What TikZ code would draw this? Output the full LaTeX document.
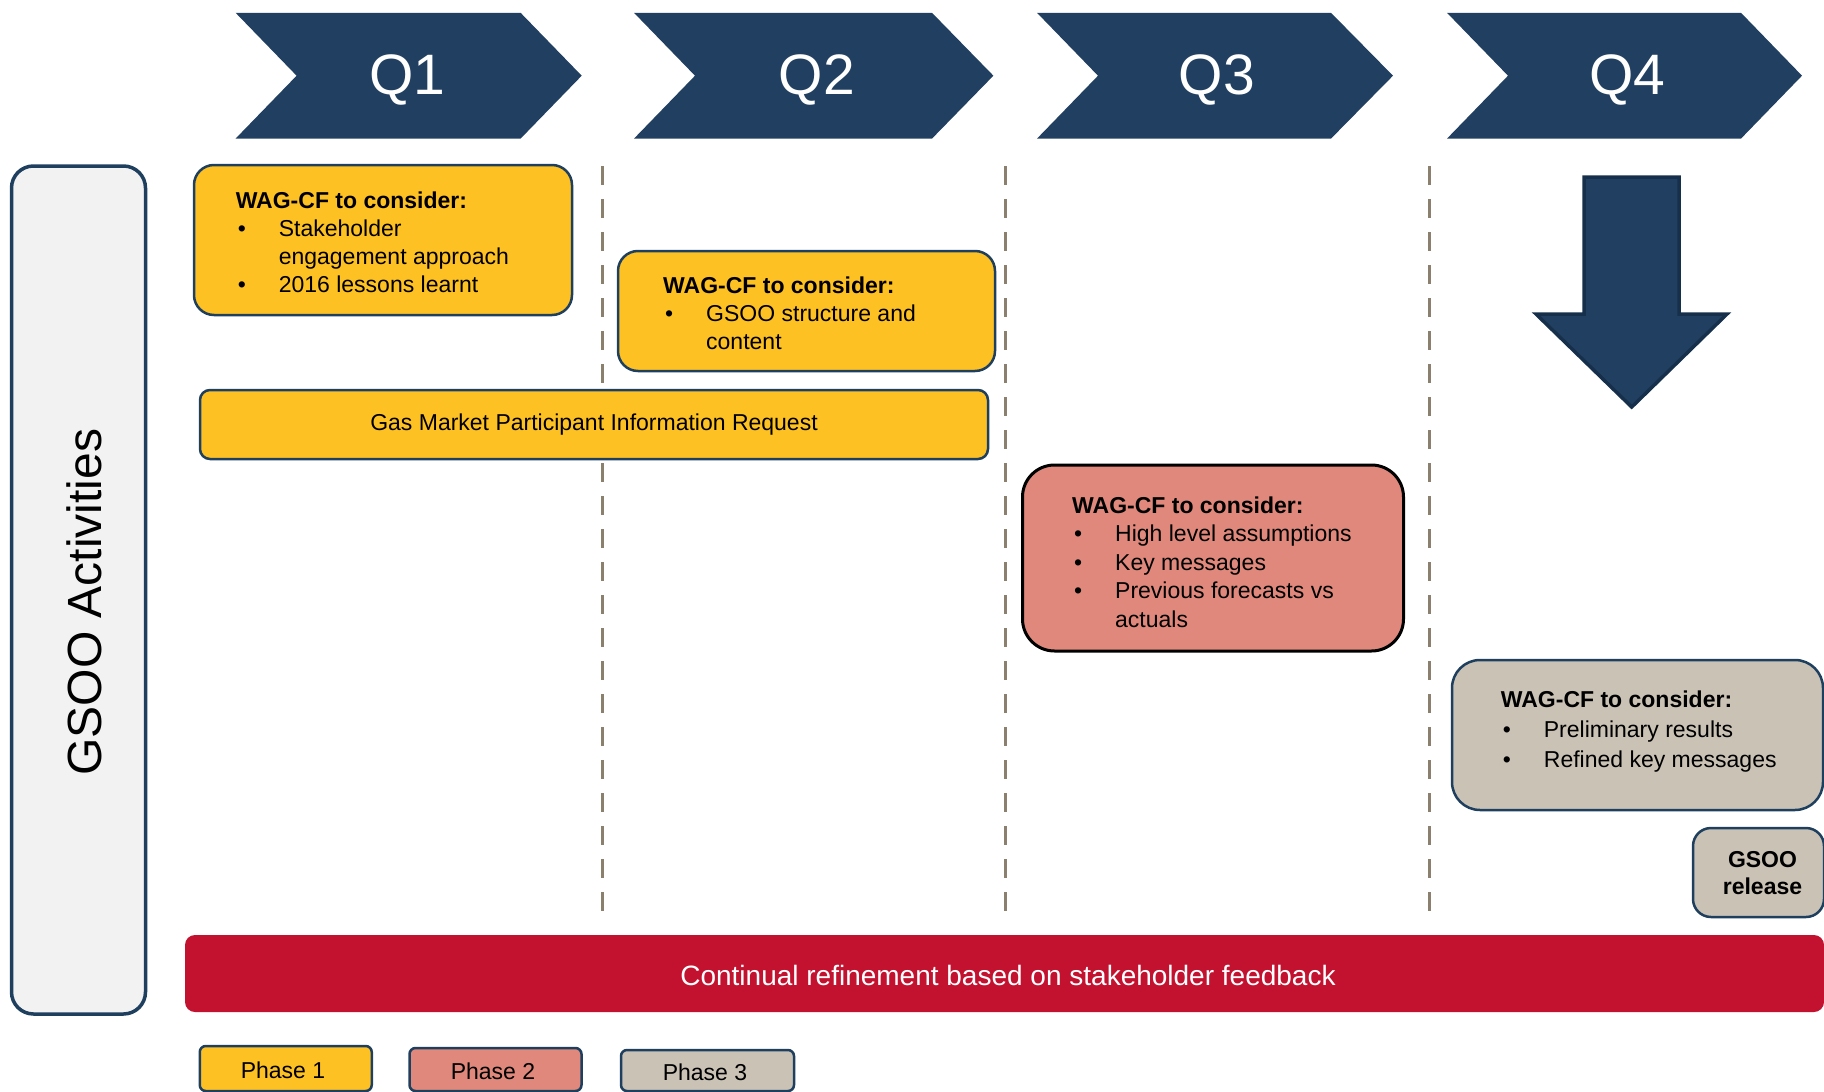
\documentclass[tikz,border=0pt]{standalone}
\usepackage{fontspec}
\setmainfont{Liberation Sans}
\definecolor{navy}{HTML}{214061}
\definecolor{navydark}{HTML}{16304C}
\definecolor{bordblue}{HTML}{1F3F5F}
\definecolor{yellowbox}{HTML}{FDC123}
\definecolor{salmonbox}{HTML}{DF887B}
\definecolor{graybox}{HTML}{C9C2B5}
\definecolor{redbar}{HTML}{C3122F}
\definecolor{panelgray}{HTML}{F2F2F2}
\definecolor{dashcol}{HTML}{8B7F6E}
\newcommand{\fs}[2]{\fontsize{#1}{#2}\selectfont}
\newcommand{\bul}{\hspace*{2pt}\makebox[41pt][l]{\textbullet}}
\newcommand{\ind}{\hspace*{43pt}}
\begin{document}
\begin{tikzpicture}[x=1pt,y=-1pt,
  chev/.style={fill=navy},
  qlabel/.style={text=white, font=\fs{57}{60}, anchor=base, inner sep=0pt},
  panel/.style={rectangle, line width=2.5pt, inner sep=0pt, draw=bordblue},
  btext/.style={anchor=base west, inner sep=0pt, align=left},
  dashline/.style={draw=dashcol, line width=3pt, dash pattern=on 19pt off 14pt},
  plabel/.style={font=\fs{23}{27}, inner sep=0pt}
]
\useasboundingbox (0,0) rectangle (1824,1092);

% chevrons
\fill[chev] (235.6,12.8) -- (520.6,12.8) -- (581.7,75.7) -- (520.6,138.6) -- (235.6,138.6) -- (296.6,75.7) -- cycle;
\fill[chev] (634,12.8) -- (932,12.8) -- (993.4,75.7) -- (932,138.6) -- (634,138.6) -- (695,75.7) -- cycle;
\fill[chev] (1037,12.8) -- (1331,12.8) -- (1393,75.7) -- (1331,138.6) -- (1037,138.6) -- (1098,75.7) -- cycle;
\fill[chev] (1447,12.8) -- (1741,12.8) -- (1802,75.7) -- (1741,138.6) -- (1447,138.6) -- (1508,75.7) -- cycle;
\node[qlabel] (q1) at (407.5,94) {Q1};
\node[qlabel] (q2) at (817,94) {Q2};
\node[qlabel] (q3) at (1217,94) {Q3};
\node[qlabel] (q4) at (1627.5,94) {Q4};

% dashed separators
\draw[dashline] (602,166) -- (602,912);
\draw[dashline] (1005,166) -- (1005,912);
\draw[dashline] (1429.5,166) -- (1429.5,912);

% side panel
\node[panel, fill=panelgray, line width=3.5pt, rounded corners=22pt, minimum width=134pt, minimum height=848pt] (act) at (78.5,590) {};
\node[rotate=90, font=\fs{48}{50}, inner sep=0pt] (actlabel) at (84.5,602) {GSOO Activities};

% Q1 box
\node[panel, fill=yellowbox, rounded corners=20pt, minimum width=378pt, minimum height=150pt] (b1) at (383,240) {};
\node[btext, font=\fs{23}{28}] (t1) at (235.6,208) {\begin{tabular}[t]{@{}l@{}}\textbf{WAG-CF to consider:}\\ \bul Stakeholder\\ \ind engagement approach\\ \bul 2016 lessons learnt\end{tabular}};

% Q2 box
\node[panel, fill=yellowbox, rounded corners=20pt, minimum width=377pt, minimum height=120pt] (b2) at (806.5,311) {};
\node[btext, font=\fs{23}{28}] (t2) at (663,293.5) {\begin{tabular}[t]{@{}l@{}}\textbf{WAG-CF to consider:}\\ \bul GSOO structure and\\ \ind content\end{tabular}};

% Gas market bar
\node[panel, fill=yellowbox, rounded corners=10pt, minimum width=788pt, minimum height=69pt] (gas) at (594,424.5) {};
\node[font=\fs{23}{27}, inner sep=0pt] (gastext) at (594,424.5) {Gas Market Participant Information Request};

% Q3 box
\node[panel, draw=black, line width=3pt, fill=salmonbox, rounded corners=32pt, minimum width=381pt, minimum height=186pt] (b3) at (1213,558) {};
\node[btext, font=\fs{23}{28.5}] (t3) at (1072,513) {\begin{tabular}[t]{@{}l@{}}\textbf{WAG-CF to consider:}\\ \bul High level assumptions\\ \bul Key messages\\ \bul Previous forecasts vs\\ \ind actuals\end{tabular}};

% Q4 arrow
\filldraw[fill=navy, draw=navydark, line width=3.5pt, line join=miter] (1584,177) -- (1679,177) -- (1679,314) -- (1727,314) -- (1631.7,407) -- (1536,314) -- (1584,314) -- cycle;

% Q4 box
\node[panel, fill=graybox, rounded corners=28pt, minimum width=371pt, minimum height=150pt] (b4) at (1637.5,735) {};
\node[btext, font=\fs{23}{30}] (t4) at (1500.7,707) {\begin{tabular}[t]{@{}l@{}}\textbf{WAG-CF to consider:}\\ \bul Preliminary results\\ \bul Refined key messages\end{tabular}};

% GSOO release
\node[panel, fill=graybox, rounded corners=18pt, minimum width=131pt, minimum height=89pt] (rel) at (1758.5,872.5) {};
\node[font=\fs{23}{27.5}\bfseries, align=center, inner sep=0pt] (reltext) at (1762.5,873) {GSOO\\release};

% red bar
\node[rectangle, fill=redbar, rounded corners=10pt, minimum width=1639pt, minimum height=77pt, inner sep=0pt] (refine) at (1004.5,973.5) {};
\node[text=white, font=\fs{28}{30}, inner sep=0pt] (refinetext) at (1008,975) {Continual refinement based on stakeholder feedback};

% legend
\node[panel, fill=yellowbox, rounded corners=6pt, minimum width=172pt, minimum height=45pt] (p1) at (285.75,1068.5) {};
\node[plabel] (p1t) at (283,1070) {Phase 1};
\node[panel, fill=salmonbox, rounded corners=6pt, minimum width=172pt, minimum height=43pt] (p2) at (495.5,1069.5) {};
\node[plabel] (p2t) at (493,1071) {Phase 2};
\node[panel, fill=graybox, rounded corners=6pt, minimum width=173pt, minimum height=41pt] (p3) at (707.5,1070.5) {};
\node[plabel] (p3t) at (705,1072) {Phase 3};
\end{tikzpicture}
\end{document}
